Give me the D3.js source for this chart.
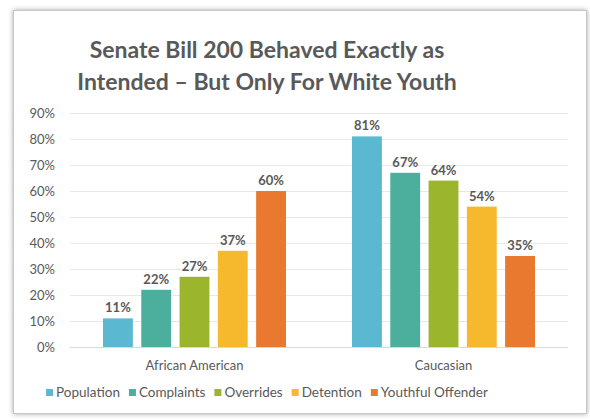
<!DOCTYPE html>
<html>
<head>
<meta charset="utf-8">
<script src="https://cdn.jsdelivr.net/npm/d3@7"></script>
<style>
  body { margin: 0; background: #fff; }
  text { font-family: Lato, "Open Sans", sans-serif; fill: #595959; }
</style>
</head>
<body>
<div id="chart"></div>
<script>
// data
var groups = ["African American", "Caucasian"];
var series = ["Population", "Complaints", "Overrides", "Detention", "Youthful Offender"];
var africanAmerican = [11, 22, 27, 37, 60];
var caucasian = [81, 67, 64, 54, 35];
var yTicks = [0, 10, 20, 30, 40, 50, 60, 70, 80, 90];
var colors = ["#5ab8d0", "#4caf9e", "#9bb52d", "#f6b92e", "#e8792f"];

var values = [africanAmerican, caucasian];

var W = 590, H = 419;
var margin = {top: 113, right: 22, bottom: 72, left: 70},
    width = W - margin.left - margin.right,
    height = H - margin.top - margin.bottom;

var svg = d3.select("#chart")
  .append("svg")
    .attr("width", W)
    .attr("height", H);

// frame with soft shadow
var defs = svg.append("defs");
var f = defs.append("filter").attr("id", "shadow")
  .attr("x", "-5%").attr("y", "-5%").attr("width", "110%").attr("height", "110%");
f.append("feDropShadow").attr("dx", 0).attr("dy", 0).attr("stdDeviation", 2.5)
  .attr("flood-color", "#000").attr("flood-opacity", 0.35);

svg.append("rect")
  .attr("x", 13.5).attr("y", 10.5)
  .attr("width", 573).attr("height", 403)
  .attr("fill", "#fff")
  .attr("stroke", "#c8c8c8")
  .attr("filter", "url(#shadow)");

// title
var title = svg.append("text")
  .attr("x", 267)
  .attr("text-anchor", "middle")
  .style("font-size", "23px")
  .style("font-weight", "bold");
title.append("tspan").attr("x", 267).attr("y", 58).text("Senate Bill 200 Behaved Exactly as");
title.append("tspan").attr("x", 267).attr("y", 90).text("Intended \u2013 But Only For White Youth");

var g = svg.append("g")
  .attr("transform", "translate(" + margin.left + "," + margin.top + ")");

var x0 = d3.scaleBand()
  .domain(groups)
  .range([0, width]);

var x1 = d3.scaleBand()
  .domain(series)
  .range([33, x0.bandwidth() - 33])
  .paddingInner(0.22);

var y = d3.scaleLinear()
  .domain([0, 90])
  .range([height, 0]);

// gridlines
g.append("g")
  .selectAll("line")
  .data(yTicks)
  .enter()
  .append("line")
    .attr("x1", 0)
    .attr("x2", width)
    .attr("y1", function(d) { return y(d) + 0.5; })
    .attr("y2", function(d) { return y(d) + 0.5; })
    .attr("stroke", function(d) { return d === 0 ? "#d9d9d9" : "#e8e8e8"; })
    .attr("stroke-width", 1);

// y axis labels
var yAxis = g.append("g")
  .call(d3.axisLeft(y).tickValues(yTicks).tickSize(0).tickPadding(15)
    .tickFormat(function(d) { return d + "%"; }));
yAxis.select(".domain").remove();
yAxis.selectAll("text")
  .style("font-size", "13px")
  .style("font-family", "Lato, sans-serif")
  .attr("fill", "#595959");

// x axis labels
var xAxis = g.append("g")
  .attr("transform", "translate(0," + height + ")")
  .call(d3.axisBottom(x0).tickSize(0).tickPadding(14));
xAxis.select(".domain").remove();
xAxis.selectAll("text")
  .style("font-size", "13px")
  .style("font-family", "Lato, sans-serif")
  .attr("fill", "#595959");

// bars
var grp = g.selectAll(".grp")
  .data(groups)
  .enter()
  .append("g")
    .attr("class", "grp")
    .attr("transform", function(d) { return "translate(" + x0(d) + ",0)"; });

grp.selectAll("rect")
  .data(function(d, i) { return series.map(function(s, j) { return {s: s, v: values[i][j], c: colors[j]}; }); })
  .enter()
  .append("rect")
    .attr("x", function(d) { return x1(d.s); })
    .attr("y", function(d) { return y(d.v); })
    .attr("width", x1.bandwidth())
    .attr("height", function(d) { return height - y(d.v); })
    .attr("fill", function(d) { return d.c; });

grp.selectAll(".lbl")
  .data(function(d, i) { return series.map(function(s, j) { return {s: s, v: values[i][j]}; }); })
  .enter()
  .append("text")
    .attr("class", "lbl")
    .attr("x", function(d) { return x1(d.s) + x1.bandwidth() / 2; })
    .attr("y", function(d) { return y(d.v) - 6; })
    .attr("text-anchor", "middle")
    .style("font-size", "13px")
    .style("font-weight", "bold")
    .text(function(d) { return d.v + "%"; });

// legend
var legend = svg.append("g");
var lx = 0;
series.forEach(function(s, i) {
  var item = legend.append("g").attr("transform", "translate(" + lx + ",0)");
  item.append("rect")
    .attr("x", 0).attr("y", -8)
    .attr("width", 7).attr("height", 7)
    .attr("fill", colors[i]);
  var t = item.append("text")
    .attr("x", 10).attr("y", 0)
    .style("font-size", "13.5px")
    .text(s);
  lx += 10 + t.node().getComputedTextLength() + 9;
});
var legendW = lx - 9;
legend.attr("transform", "translate(" + (267 - legendW / 2) + ",397)");
</script>
</body>
</html>
